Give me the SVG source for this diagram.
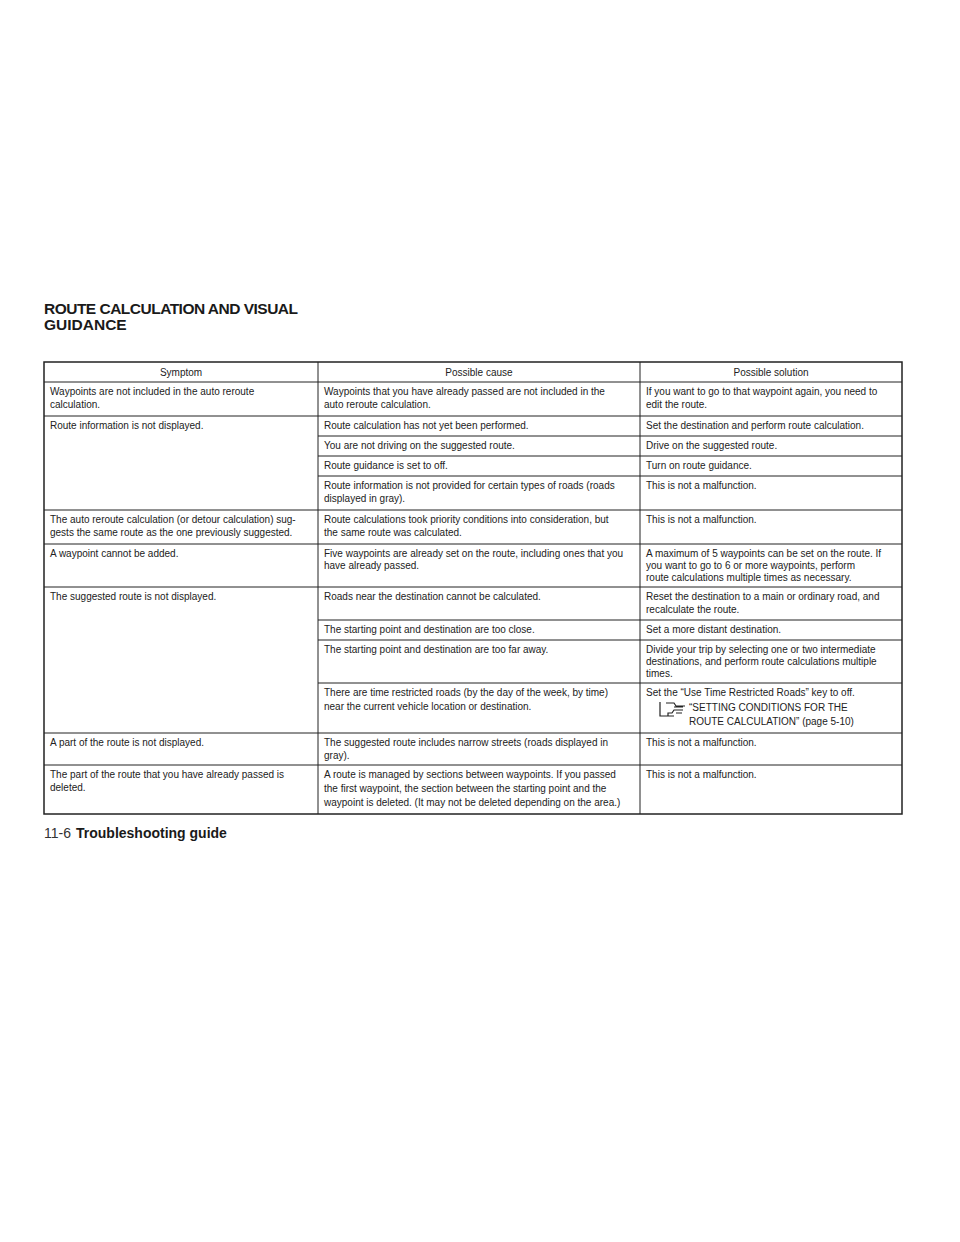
<svg xmlns="http://www.w3.org/2000/svg" width="960" height="1242" viewBox="0 0 960 1242">
<style>
text{font-family:"Liberation Sans",Arial,sans-serif;font-size:10px;fill:#222}
.h{font-weight:bold;font-size:15.5px;fill:#1a1a1a}
.c{text-anchor:middle}
line{stroke:#222;stroke-width:1}
</style>
<rect width="960" height="1242" fill="#fff"/>
<g id="title"><text class="h" x="44" y="314" textLength="254">ROUTE CALCULATION AND VISUAL</text><text class="h" x="44" y="330">GUIDANCE</text></g>
<g id="grid">
<rect x="44" y="362" width="858" height="452" fill="none" stroke="#222" stroke-width="1.5"/>
<line x1="318" y1="362" x2="318" y2="814"/>
<line x1="640" y1="362" x2="640" y2="814"/>
<line x1="44" y1="382" x2="902" y2="382"/>
<line x1="44" y1="416" x2="902" y2="416"/>
<line x1="318" y1="436" x2="902" y2="436"/>
<line x1="318" y1="456" x2="902" y2="456"/>
<line x1="318" y1="476" x2="902" y2="476"/>
<line x1="44" y1="510" x2="902" y2="510"/>
<line x1="44" y1="544" x2="902" y2="544"/>
<line x1="44" y1="587" x2="902" y2="587"/>
<line x1="318" y1="620" x2="902" y2="620"/>
<line x1="318" y1="640" x2="902" y2="640"/>
<line x1="318" y1="683" x2="902" y2="683"/>
<line x1="44" y1="733" x2="902" y2="733"/>
<line x1="44" y1="765" x2="902" y2="765"/>
</g>
<g id="text">
<text class="c" x="181" y="376">Symptom</text><text class="c" x="479" y="376">Possible cause</text><text class="c" x="771" y="376">Possible solution</text>
<text x="50" y="395">Waypoints are not included in the auto reroute</text><text x="50" y="408">calculation.</text>
<text x="324" y="395">Waypoints that you have already passed are not included in the</text><text x="324" y="408">auto reroute calculation.</text>
<text x="646" y="395">If you want to go to that waypoint again, you need to</text><text x="646" y="408">edit the route.</text>
<text x="50" y="429">Route information is not displayed.</text>
<text x="324" y="429">Route calculation has not yet been performed.</text><text x="646" y="429">Set the destination and perform route calculation.</text>
<text x="324" y="449">You are not driving on the suggested route.</text><text x="646" y="449">Drive on the suggested route.</text>
<text x="324" y="469">Route guidance is set to off.</text><text x="646" y="469">Turn on route guidance.</text>
<text x="324" y="489">Route information is not provided for certain types of roads (roads</text><text x="324" y="502">displayed in gray).</text><text x="646" y="489">This is not a malfunction.</text>
<text x="50" y="523">The auto reroute calculation (or detour calculation) sug-</text><text x="50" y="536">gests the same route as the one previously suggested.</text>
<text x="324" y="523">Route calculations took priority conditions into consideration, but</text><text x="324" y="536">the same route was calculated.</text><text x="646" y="523">This is not a malfunction.</text>
<text x="50" y="557">A waypoint cannot be added.</text>
<text x="324" y="557">Five waypoints are already set on the route, including ones that you</text><text x="324" y="569">have already passed.</text>
<text x="646" y="557">A maximum of 5 waypoints can be set on the route. If</text><text x="646" y="569">you want to go to 6 or more waypoints, perform</text><text x="646" y="581">route calculations multiple times as necessary.</text>
<text x="50" y="600">The suggested route is not displayed.</text>
<text x="324" y="600">Roads near the destination cannot be calculated.</text><text x="646" y="600">Reset the destination to a main or ordinary road, and</text><text x="646" y="613">recalculate the route.</text>
<text x="324" y="633">The starting point and destination are too close.</text><text x="646" y="633">Set a more distant destination.</text>
<text x="324" y="653">The starting point and destination are too far away.</text><text x="646" y="653">Divide your trip by selecting one or two intermediate</text><text x="646" y="665">destinations, and perform route calculations multiple</text><text x="646" y="677">times.</text>
<text x="324" y="696">There are time restricted roads (by the day of the week, by time)</text><text x="324" y="710">near the current vehicle location or destination.</text>
<text x="646" y="696">Set the “Use Time Restricted Roads” key to off.</text><text x="689" y="711">“SETTING CONDITIONS FOR THE</text><text x="689" y="725">ROUTE CALCULATION” (page 5-10)</text>
<text x="50" y="746">A part of the route is not displayed.</text>
<text x="324" y="746">The suggested route includes narrow streets (roads displayed in</text><text x="324" y="759">gray).</text><text x="646" y="746">This is not a malfunction.</text>
<text x="50" y="778">The part of the route that you have already passed is</text><text x="50" y="791">deleted.</text>
<text x="324" y="778">A route is managed by sections between waypoints. If you passed</text><text x="324" y="792">the first waypoint, the section between the starting point and the</text><text x="324" y="806">waypoint is deleted. (It may not be deleted depending on the area.)</text>
<text x="646" y="778">This is not a malfunction.</text>
</g>
<g id="icon" fill="none" stroke="#222" stroke-width="1.2">
<path d="M660 702 v14 h8 v-3 h4 l2 -3 h9 M668 716 h6 M666 703 h8 l2 3 h9 M674 707 h9 M676 713 h6"/>
</g>
<g id="footer"><text x="44" y="838" style="font-size:14px;fill:#333">11-6</text><text x="76" y="838" style="font-size:14px;font-weight:bold;fill:#1a1a1a">Troubleshooting guide</text></g>
</svg>
